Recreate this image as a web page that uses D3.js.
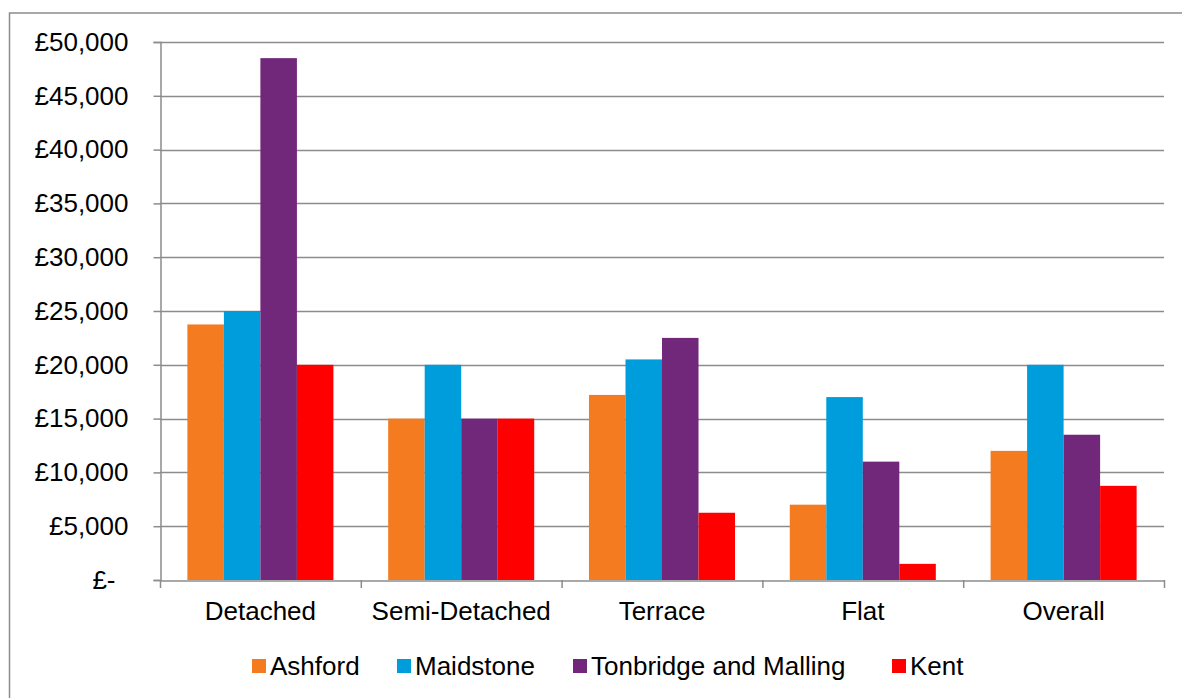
<!DOCTYPE html>
<html>
<head>
<meta charset="utf-8">
<script src="https://cdn.jsdelivr.net/npm/d3@7"></script>
<style>
  html, body { margin: 0; padding: 0; background: #fff; }
  svg { display: block; font-family: "Liberation Sans", Arial, sans-serif; }
</style>
</head>
<body>
<svg id="chart" width="1182" height="698"></svg>
<script>
// Average price by property type and area
const categories = ["Detached", "Semi-Detached", "Terrace", "Flat", "Overall"];
const seriesNames = ["Ashford", "Maidstone", "Tonbridge and Malling", "Kent"];
const seriesColors = ["#F47B20", "#009DDC", "#71277A", "#FF0000"];
const ashford   = [23750, 15000, 17200, 7000, 12000];
const maidstone = [25000, 20000, 20500, 17000, 20000];
const tonbridge = [48500, 15000, 22500, 11000, 13500];
const kent      = [20000, 15000, 6250, 1500, 8750];
const yTicks = [0, 5000, 10000, 15000, 20000, 25000, 30000, 35000, 40000, 45000, 50000];

const seriesValues = [ashford, maidstone, tonbridge, kent];

const svg = d3.select("#chart");
const plot = { left: 160, right: 1164, top: 42, bottom: 580 };
const FONT = 26;

// outer chart frame
svg.append("rect")
  .attr("x", 9.5).attr("y", 13)
  .attr("width", 1180).attr("height", 700)
  .attr("fill", "#fff").attr("stroke", "#8c8c8c").attr("stroke-width", 1.5);

const y = d3.scaleLinear().domain([0, 50000]).range([plot.bottom, plot.top]);
const x0 = d3.scaleBand().domain(categories).range([plot.left, plot.right]).padding(0);
const step = x0.bandwidth();
const barW = step / 5.5;            // gap between groups = 1.5 bar widths
const x1 = d3.scaleBand().domain(seriesNames)
  .range([0.75 * barW, step - 0.75 * barW]).padding(0);

const gridColor = "#8c8c8c";

// horizontal gridlines
svg.append("g")
  .selectAll("line")
  .data(yTicks.filter(d => d > 0))
  .join("line")
  .attr("x1", plot.left).attr("x2", plot.right)
  .attr("y1", d => Math.round(y(d)) + 0.5).attr("y2", d => Math.round(y(d)) + 0.5)
  .attr("stroke", gridColor).attr("stroke-width", 1.5);

// bars
const groups = svg.append("g")
  .selectAll("g")
  .data(categories)
  .join("g")
  .attr("transform", c => `translate(${x0(c)},0)`);

groups.selectAll("rect")
  .data((c, i) => seriesNames.map((s, k) => ({ s, k, v: seriesValues[k][i] })))
  .join("rect")
  .attr("x", d => x1(d.s))
  .attr("width", x1.bandwidth())
  .attr("y", d => y(d.v))
  .attr("height", d => y(0) - y(d.v))
  .attr("fill", d => seriesColors[d.k]);

// y axis
const fmt = d => d === 0 ? "£-" : "£" + d3.format(",")(d);
const yAxis = d3.axisLeft(y).tickValues(yTicks).tickFormat(fmt).tickSize(7).tickPadding(25);
const gy = svg.append("g").attr("transform", `translate(${plot.left + 0.5},0)`).call(yAxis);
gy.select(".domain").attr("stroke", gridColor).attr("stroke-width", 1.5);
gy.selectAll(".tick line").attr("stroke", gridColor).attr("stroke-width", 1.5);
gy.selectAll(".tick text")
  .attr("font-size", FONT).attr("fill", "#000")
  .attr("font-family", "'Liberation Sans', Arial, sans-serif")
  .attr("dx", d => d === 0 ? -13 : 0);

// x axis
const xAxis = d3.axisBottom(x0).tickSize(0).tickPadding(21);
const gx = svg.append("g").attr("transform", `translate(0,${plot.bottom + 0.5})`).call(xAxis);
gx.select(".domain").attr("stroke", gridColor).attr("stroke-width", 1.5);
gx.selectAll(".tick text")
  .attr("font-size", FONT).attr("fill", "#000")
  .attr("font-family", "'Liberation Sans', Arial, sans-serif");

// category boundary tick marks
svg.append("g")
  .selectAll("line")
  .data(categories.map(c => x0(c)).concat([plot.right]))
  .join("line")
  .attr("x1", d => d + 0.5).attr("x2", d => d + 0.5)
  .attr("y1", plot.bottom).attr("y2", plot.bottom + 8)
  .attr("stroke", gridColor).attr("stroke-width", 1.5);

// legend
const legendX = [252, 397, 573, 892];
const legend = svg.append("g")
  .selectAll("g")
  .data(seriesNames)
  .join("g")
  .attr("transform", (d, i) => `translate(${legendX[i]},666)`);
legend.append("rect")
  .attr("x", 0).attr("y", -7).attr("width", 14).attr("height", 14)
  .attr("fill", (d, i) => seriesColors[i]);
legend.append("text")
  .attr("x", 18).attr("y", 0).attr("dy", "0.35em")
  .attr("font-size", FONT).attr("fill", "#000")
  .text(d => d);
</script>
</body>
</html>
